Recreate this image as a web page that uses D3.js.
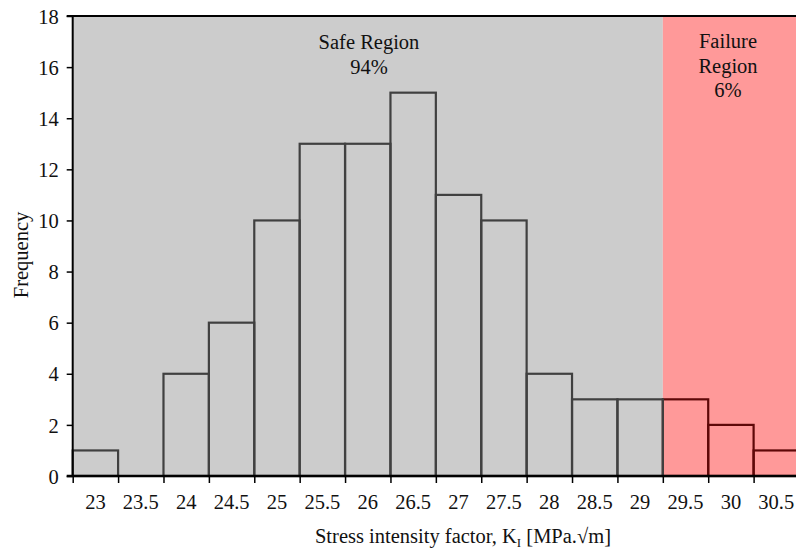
<!DOCTYPE html>
<html>
<head>
<meta charset="utf-8">
<script src="https://cdn.jsdelivr.net/npm/d3@7"></script>
<style>
  body { margin: 0; background: #fff; }
  svg text { font-family: "Liberation Serif", "Times New Roman", serif; fill: #111; }
</style>
</head>
<body>
<div id="graf"></div>
<script>
// datos
binCentres = [23, 23.5, 24, 24.5, 25, 25.5, 26, 26.5, 27, 27.5, 28, 28.5, 29, 29.5, 30, 30.5]
frequency  = [1, 0, 4, 6, 10, 13, 13, 15, 11, 10, 4, 3, 3, 3, 2, 1]
yTicks     = [0, 2, 4, 6, 8, 10, 12, 14, 16, 18]
failureFrom = 29.25
safeText    = ['Safe Region', '94%']
failureText = ['Failure', 'Region', '6%']
binWidth = 0.5

// configuración
ancho_total = 796
alto_total = 555
margins = { top: 16, left: 72.7, right: -3, bottom: 79 }
ancho = ancho_total - margins.left - margins.right
alto  = alto_total - margins.top - margins.bottom
fs = '20.5px'

svg = d3.select('#graf').append('svg')
        .attr('width', ancho_total)
        .attr('height', alto_total)
        .style('font-family', '"Liberation Serif", "Times New Roman", serif')

g = svg.append('g')
       .attr('transform', `translate(${ margins.left }, ${ margins.top })`)

x = d3.scaleLinear()
      .domain([binCentres[0] - binWidth / 2, binCentres[binCentres.length - 1] + binWidth / 2])
      .range([0, ancho])

y = d3.scaleLinear()
      .domain([0, 18])
      .range([alto, 0])

// fondos
g.append('rect')
 .attr('x', 0).attr('y', 0)
 .attr('width', x(failureFrom)).attr('height', alto)
 .attr('fill', '#cccccc')

g.append('rect')
 .attr('x', x(failureFrom)).attr('y', 0)
 .attr('width', ancho - x(failureFrom)).attr('height', alto)
 .attr('fill', '#ff9999')

// barras
data = binCentres.map((c, i) => ({ c: c, f: frequency[i] }))
data.sort((a, b) => (b.c > failureFrom) - (a.c > failureFrom))

g.selectAll('rect.bar')
 .data(data.filter(d => d.f > 0))
 .enter()
 .append('rect')
   .attr('class', 'bar')
   .attr('x', d => x(d.c - binWidth / 2))
   .attr('y', d => y(d.f))
   .attr('width', d => x(d.c + binWidth / 2) - x(d.c - binWidth / 2))
   .attr('height', d => alto - y(d.f))
   .attr('fill', 'none')
   .attr('stroke', d => d.c > failureFrom ? '#5e0808' : '#404040')
   .attr('stroke-width', 2.2)

// ejes
yAxis = g.append('g')
         .call(d3.axisLeft(y).tickValues(yTicks).tickSize(6).tickPadding(8))
yAxis.attr('font-family', null).attr('font-size', null)
yAxis.select('.domain').remove()
yAxis.selectAll('line').attr('stroke', '#000').attr('stroke-width', 1.5)
yAxis.selectAll('text').style('font-size', fs).attr('dy', '0.35em')

boundaries = d3.range(binCentres.length + 1).map(i => binCentres[0] - binWidth / 2 + i * binWidth)
xAxis = g.append('g')
         .attr('transform', `translate(0, ${ alto })`)
         .call(d3.axisBottom(x).tickValues(boundaries).tickSize(7).tickFormat(''))
xAxis.select('.domain').remove()
xAxis.selectAll('line').attr('stroke', '#000').attr('stroke-width', 1.5)

g.selectAll('text.xlab')
 .data(binCentres)
 .enter()
 .append('text')
   .attr('class', 'xlab')
   .attr('x', d => x(d))
   .attr('y', alto + 32.5)
   .attr('text-anchor', 'middle')
   .style('font-size', fs)
   .text(d => d)

// líneas del marco
g.append('line').attr('x1', 0).attr('x2', 0).attr('y1', 0).attr('y2', alto)
 .attr('stroke', '#000').attr('stroke-width', 2)
g.append('line').attr('x1', -6).attr('x2', ancho).attr('y1', alto).attr('y2', alto)
 .attr('stroke', '#000').attr('stroke-width', 2.5)
g.append('line').attr('x1', -6).attr('x2', ancho).attr('y1', 0).attr('y2', 0)
 .attr('stroke', '#000').attr('stroke-width', 2)

// anotaciones
g.selectAll('text.safe')
 .data(safeText)
 .enter()
 .append('text')
   .attr('class', 'safe')
   .attr('x', 369 - margins.left)
   .attr('y', (d, i) => 33 + i * 24.5)
   .attr('text-anchor', 'middle')
   .style('font-size', fs)
   .text(d => d)

g.selectAll('text.fail')
 .data(failureText)
 .enter()
 .append('text')
   .attr('class', 'fail')
   .attr('x', 728 - margins.left)
   .attr('y', (d, i) => 32 + i * 24.5)
   .attr('text-anchor', 'middle')
   .style('font-size', fs)
   .text(d => d)

// títulos
xt = svg.append('text')
        .attr('x', 463)
        .attr('y', 543)
        .attr('text-anchor', 'middle')
        .style('font-size', fs)
xt.append('tspan').text('Stress intensity factor, K')
xt.append('tspan').text('I').style('font-size', '13px').attr('dy', 4)
xt.append('tspan').text(' [MPa.√m]').attr('dy', -4)

svg.append('text')
   .attr('transform', 'translate(28, 255) rotate(-90)')
   .attr('text-anchor', 'middle')
   .style('font-size', fs)
   .text('Frequency')
</script>
</body>
</html>
